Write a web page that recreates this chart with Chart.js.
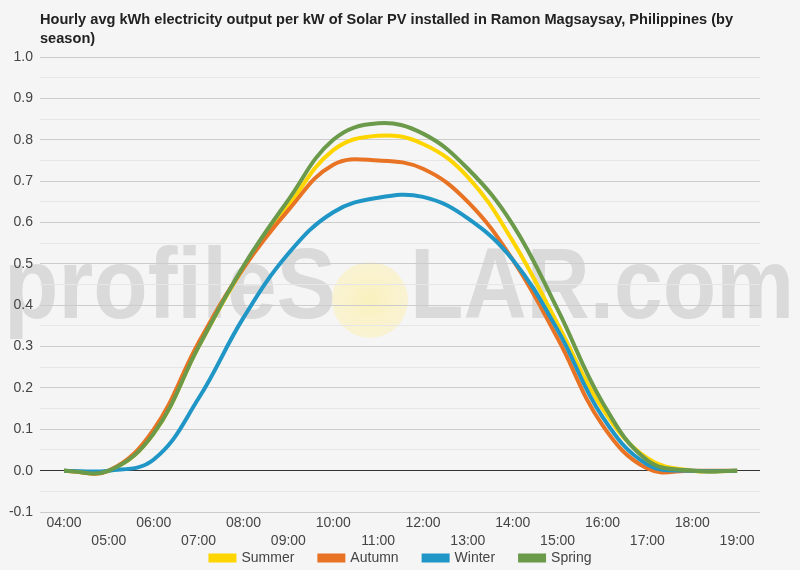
<!DOCTYPE html>
<html>
<head>
<meta charset="utf-8">
<script src="https://cdn.jsdelivr.net/npm/chart.js@4"></script>
<style>
  html, body { margin: 0; padding: 0; background: #f5f5f5; }
  #wrap { width: 800px; height: 570px; }
</style>
</head>
<body>
<div id="wrap"><canvas id="c" width="800" height="570"></canvas></div>
<script>
const HOURS = [4, 5, 6, 7, 8, 9, 10, 11, 12, 13, 14, 15, 16, 17, 18, 19];
const HOUR_LABELS = ['04:00','05:00','06:00','07:00','08:00','09:00','10:00','11:00','12:00','13:00','14:00','15:00','16:00','17:00','18:00','19:00'];
const SUMMER = [0, 0, 0.09, 0.30, 0.49, 0.64, 0.775, 0.81, 0.79, 0.71, 0.555, 0.355, 0.15, 0.03, 0.0, 0.0];
const AUTUMN = [0, 0, 0.10, 0.31, 0.49, 0.63, 0.74, 0.75, 0.73, 0.65, 0.51, 0.32, 0.11, 0.005, 0.0, 0.0];
const WINTER = [0, 0, 0.027, 0.175, 0.37, 0.525, 0.625, 0.66, 0.662, 0.61, 0.51, 0.34, 0.13, 0.015, 0.0, 0.0];
const SPRING = [0, 0, 0.09, 0.30, 0.495, 0.655, 0.80, 0.84, 0.815, 0.73, 0.595, 0.39, 0.165, 0.025, 0.0, 0.0];
const SERIES_NAMES = ['Summer', 'Autumn', 'Winter', 'Spring'];
const COLORS = ['#ffd500', '#e87324', '#1f96c6', '#6b9a4b'];
const TITLE_LINES = ['Hourly avg kWh electricity output per kW of Solar PV installed in Ramon Magsaysay, Philippines (by', 'season)'];

const FONT = 'Arial, "Liberation Sans", sans-serif';

const bgPlugin = {
  id: 'bgWatermark',
  beforeDraw(chart) {
    const ctx = chart.ctx;
    ctx.save();
    ctx.fillStyle = '#f5f5f5';
    ctx.fillRect(0, 0, chart.width, chart.height);
    // watermark
    ctx.fillStyle = 'rgba(200,200,200,0.6)';
    ctx.font = 'bold 100px ' + FONT;
    ctx.textBaseline = 'alphabetic';
    ctx.fillText('profileS', 4, 318, 332);
    const g = ctx.createRadialGradient(370, 300, 5, 370, 300, 38);
    g.addColorStop(0, 'rgba(255,238,150,0.55)');
    g.addColorStop(1, 'rgba(255,240,170,0.45)');
    ctx.fillStyle = g;
    ctx.beginPath();
    ctx.arc(370, 300, 38, 0, Math.PI * 2);
    ctx.fill();
    ctx.fillStyle = 'rgba(200,200,200,0.6)';
    ctx.fillText('LAR.com', 410, 318, 384);
    ctx.restore();
  }
};

const legendPlugin = {
  id: 'customLegend',
  afterDraw(chart) {
    const ctx = chart.ctx;
    ctx.save();
    ctx.font = '14px ' + FONT;
    ctx.textBaseline = 'middle';
    const boxW = 28, boxH = 9, gapText = 5, gapItem = 23, y = 558;
    const items = chart.data.datasets.map(d => ({ text: d.label, color: d.borderColor, w: ctx.measureText(d.label).width }));
    const total = items.reduce((s, it) => s + boxW + gapText + it.w, 0) + gapItem * (items.length - 1);
    let x = 400 - total / 2;
    items.forEach(it => {
      ctx.fillStyle = it.color;
      ctx.fillRect(x, y - boxH / 2, boxW, boxH);
      ctx.fillStyle = '#444';
      ctx.fillText(it.text, x + boxW + gapText, y);
      x += boxW + gapText + it.w + gapItem;
    });
    ctx.restore();
  }
};

const datasets = SERIES_NAMES.map((name, i) => {
  const vals = [SUMMER, AUTUMN, WINTER, SPRING][i];
  return {
    label: name,
    data: HOURS.map((h, j) => ({ x: h, y: vals[j] })),
    borderColor: COLORS[i],
    backgroundColor: COLORS[i],
    borderWidth: 4,
    pointRadius: 0,
    pointHoverRadius: 0,
    tension: 0.4,
    fill: false,
    order: 4 - i
  };
});

new Chart(document.getElementById('c'), {
  type: 'line',
  data: { datasets },
  plugins: [bgPlugin, legendPlugin],
  options: {
    responsive: false,
    animation: false,
    events: [],
    layout: { padding: { left: 0, right: 40, top: 0, bottom: 20 } },
    plugins: {
      title: {
        display: true,
        text: TITLE_LINES,
        align: 'start',
        fullSize: false,
        color: '#222',
        font: { family: FONT, size: 14.6, weight: 'bold', lineHeight: 1.34 },
        padding: { top: 10, bottom: 8 }
      },
      legend: { display: false },
      tooltip: { enabled: false }
    },
    scales: {
      x: {
        type: 'linear',
        min: 3.465,
        max: 19.51,
        afterBuildTicks: (scale) => { scale.ticks = HOURS.map(v => ({ value: v })); },
        afterFit: (scale) => { scale.height = 38; },
        grid: { display: false, drawTicks: false },
        border: { display: false },
        ticks: {
          autoSkip: false,
          maxRotation: 0,
          padding: 2,
          color: '#444',
          font: { family: FONT, size: 14, lineHeight: 1.3 },
          callback: (v) => {
            const i = HOURS.indexOf(v);
            const lbl = HOUR_LABELS[i];
            return i % 2 === 0 ? [lbl, ''] : ['', lbl];
          }
        }
      },
      y: {
        min: -0.1,
        max: 1.0,
        afterFit: (scale) => { scale.width = 40; },
        border: { display: false },
        grid: {
          drawTicks: false,
          lineWidth: 1,
          color: (c) => {
            const n = Math.round(c.tick.value * 20);
            if (n === 0) return '#333333';
            return n % 2 === 0 ? '#cccccc' : '#e6e6e6';
          }
        },
        ticks: {
          stepSize: 0.05,
          autoSkip: false,
          padding: 7,
          color: '#444',
          font: { family: FONT, size: 14 },
          callback: (v) => {
            const n = Math.round(v * 20);
            return n % 2 === 0 ? (n / 20).toFixed(1) : '';
          }
        }
      }
    }
  }
});
</script>
</body>
</html>
